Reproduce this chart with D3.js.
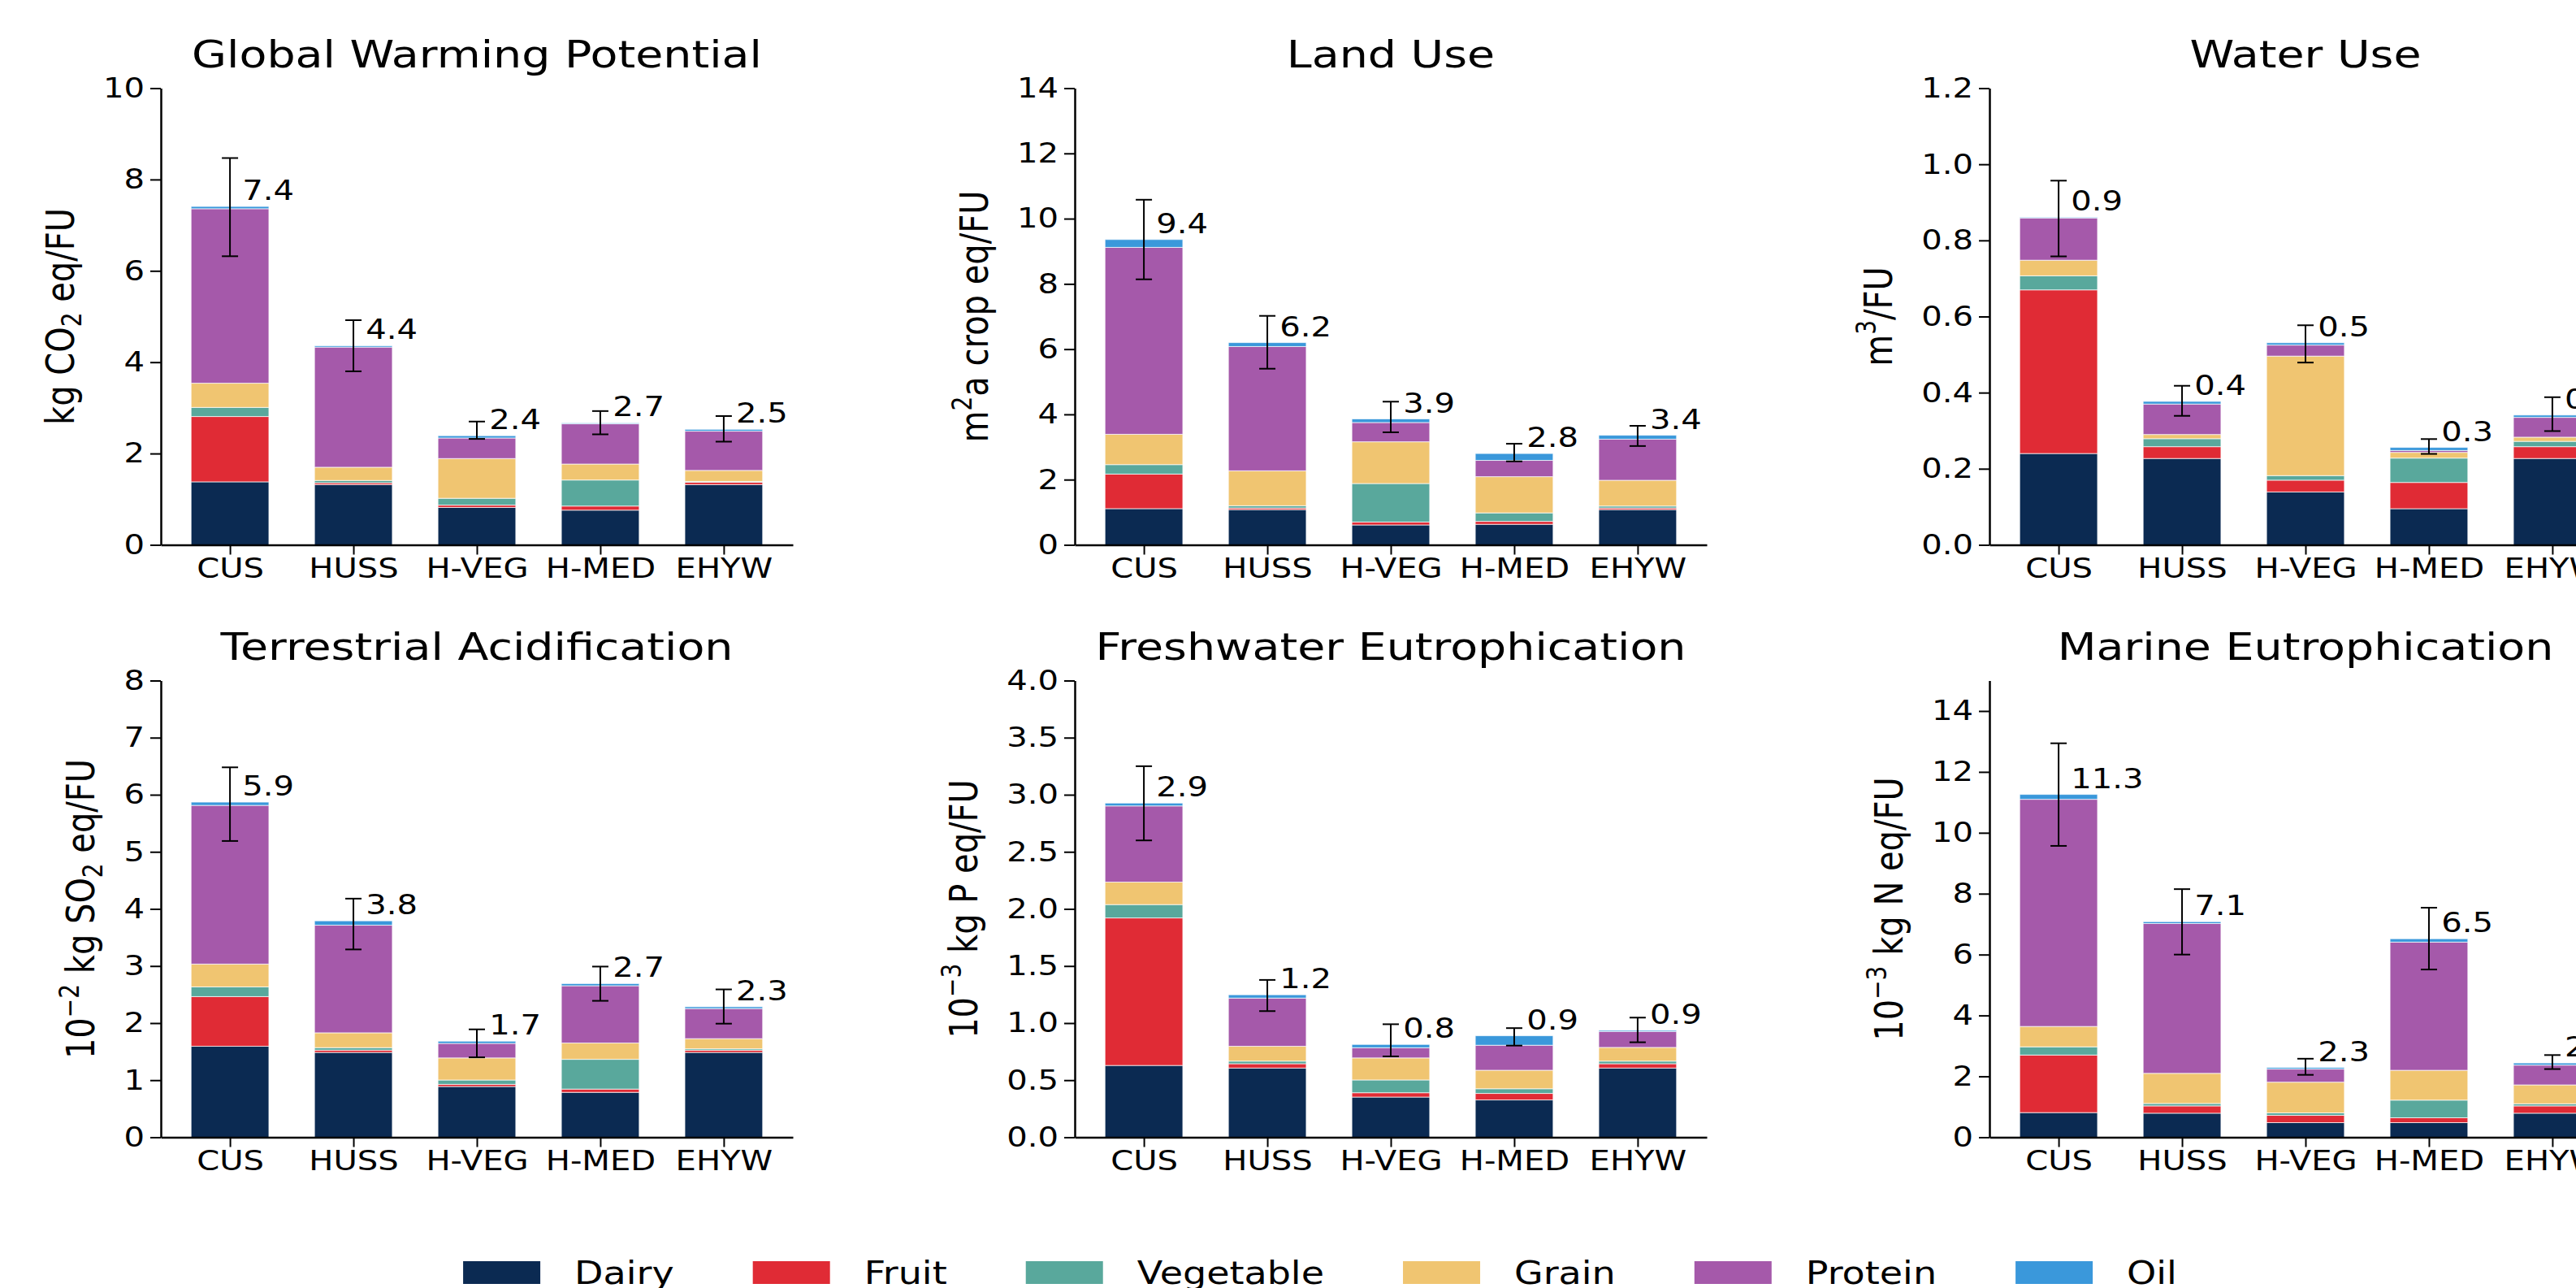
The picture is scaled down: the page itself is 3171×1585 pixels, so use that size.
<!DOCTYPE html>
<html>
<head>
<meta charset="utf-8">
<script src="https://cdn.jsdelivr.net/npm/d3@7"></script>
<style>
  body { margin: 0; background: #fff; }
  text { font-family: "DejaVu Sans", sans-serif; fill: #000; }
</style>
</head>
<body>
<script>
// Categories
var diets = ["CUS", "HUSS", "H-VEG", "H-MED", "EHYW"];
var groups = ["Dairy", "Fruit", "Vegetable", "Grain", "Protein", "Oil"];
var colors = ["#0b2a52", "#e02b35", "#59a89c", "#f0c571", "#a559aa", "#3a98db"];

var titles = ["Global Warming Potential", "Land Use", "Water Use",
  "Terrestrial Acidification", "Freshwater Eutrophication", "Marine Eutrophication"];
// ^{..} superscript, _{..} subscript
var yLabels = ["kg CO_{2} eq/FU", "m^{2}a crop eq/FU", "m^{3}/FU",
  "10^{\u22122} kg SO_{2} eq/FU", "10^{\u22123} kg P eq/FU", "10^{\u22123} kg N eq/FU"];
var yMax = [10, 14, 1.2, 8, 4, 15];
var yTicks = [
  [0, 2, 4, 6, 8, 10],
  [0, 2, 4, 6, 8, 10, 12, 14],
  [0, 0.2, 0.4, 0.6, 0.8, 1.0, 1.2],
  [0, 1, 2, 3, 4, 5, 6, 7, 8],
  [0, 0.5, 1.0, 1.5, 2.0, 2.5, 3.0, 3.5, 4.0],
  [0, 2, 4, 6, 8, 10, 12, 14]
];
var tickFormats = ["d", "d", ".1f", "d", ".1f", "d"];

// Values: one row per food group, one column per diet
var gwp = [
  [1.38, 1.32, 0.82, 0.76, 1.32],
  [1.43, 0.04, 0.05, 0.09, 0.05],
  [0.20, 0.05, 0.15, 0.57, 0.02],
  [0.53, 0.29, 0.87, 0.35, 0.24],
  [3.82, 2.63, 0.45, 0.88, 0.86],
  [0.05, 0.03, 0.05, 0.02, 0.04]
];
var landUse = [
  [1.11, 1.08, 0.61, 0.63, 1.08],
  [1.06, 0.05, 0.09, 0.09, 0.05],
  [0.29, 0.07, 1.18, 0.26, 0.06],
  [0.93, 1.07, 1.28, 1.11, 0.79],
  [5.73, 3.81, 0.59, 0.50, 1.26],
  [0.24, 0.12, 0.11, 0.21, 0.12]
];
var waterUse = [
  [0.240, 0.227, 0.139, 0.095, 0.227],
  [0.430, 0.031, 0.031, 0.069, 0.031],
  [0.037, 0.021, 0.012, 0.064, 0.014],
  [0.041, 0.011, 0.314, 0.015, 0.011],
  [0.111, 0.080, 0.029, 0.005, 0.052],
  [0.002, 0.007, 0.006, 0.008, 0.006]
];
var acidification = [
  [1.594, 1.486, 0.889, 0.787, 1.486],
  [0.870, 0.040, 0.038, 0.057, 0.038],
  [0.170, 0.044, 0.076, 0.521, 0.025],
  [0.400, 0.260, 0.387, 0.286, 0.178],
  [2.780, 1.885, 0.254, 1.003, 0.527],
  [0.057, 0.076, 0.039, 0.038, 0.032]
];
var freshwater = [
  [0.629, 0.606, 0.352, 0.327, 0.606],
  [1.292, 0.038, 0.038, 0.057, 0.038],
  [0.117, 0.023, 0.112, 0.041, 0.023],
  [0.197, 0.130, 0.193, 0.162, 0.120],
  [0.667, 0.422, 0.089, 0.219, 0.140],
  [0.025, 0.029, 0.029, 0.083, 0.010]
];
var marine = [
  [0.81, 0.79, 0.48, 0.48, 0.79],
  [1.89, 0.24, 0.24, 0.16, 0.24],
  [0.27, 0.08, 0.08, 0.58, 0.07],
  [0.67, 0.99, 1.01, 0.98, 0.62],
  [7.46, 4.92, 0.43, 4.21, 0.65],
  [0.16, 0.06, 0.05, 0.11, 0.07]
];

// Error bars [low, high] per diet
var gwpErr = [[6.32, 8.47], [3.80, 4.92], [2.32, 2.70], [2.42, 2.93], [2.26, 2.82]];
var landErr = [[8.14, 10.58], [5.40, 7.02], [3.45, 4.39], [2.56, 3.10], [3.03, 3.65]];
var waterErr = [[0.758, 0.957], [0.339, 0.418], [0.479, 0.577], [0.239, 0.278], [0.299, 0.388]];
var acidErr = [[5.19, 6.48], [3.29, 4.18], [1.40, 1.89], [2.39, 2.99], [1.99, 2.59]];
var freshErr = [[2.60, 3.25], [1.105, 1.378], [0.708, 0.99], [0.803, 0.956], [0.832, 1.048]];
var marineErr = [[9.57, 12.94], [6.00, 8.15], [2.05, 2.58], [5.51, 7.54], [2.24, 2.70]];

var impacts = [gwp, landUse, waterUse, acidification, freshwater, marine];
var errors = [gwpErr, landErr, waterErr, acidErr, freshErr, marineErr];

// Layout
var W = 3171, H = 1585;
var S = 1.18; // horizontal text stretch seen in the reference
var panelX = [198, 1323, 2449];
var rowTop = [108.5, 837.5];
var plotW = 778, plotH = 562;

// Write "a^{b}c_{d}" as tspans
function richText(sel, str, size) {
  var parts = str.split(/(\^\{[^}]*\}|_\{[^}]*\})/).filter(function(p) { return p.length; });
  var shift = 0;
  parts.forEach(function(p) {
    var target = 0, txt = p, fs = size;
    if (p[0] === "^") { target = -0.42 * size; txt = p.slice(2, -1); fs = size * 0.7; }
    else if (p[0] === "_") { target = 0.2 * size; txt = p.slice(2, -1); fs = size * 0.7; }
    sel.append("tspan")
        .attr("dy", target - shift)
        .attr("font-size", fs)
        .text(txt);
    shift = target;
  });
}

var svg = d3.select("body").append("svg")
    .attr("width", W)
    .attr("height", H);

svg.append("rect").attr("width", W).attr("height", H).attr("fill", "#fff");

impacts.forEach(function(vals, k) {
  var col = k % 3, row = Math.floor(k / 3);
  var g = svg.append("g")
      .attr("transform", "translate(" + panelX[col] + "," + rowTop[row] + ")");

  var x = d3.scalePoint().domain(diets).range([0, plotW]).padding(0.56);
  var y = d3.scaleLinear().domain([0, yMax[k]]).range([plotH, 0]);
  var bw = x.step() * 0.63;

  var rows = diets.map(function(d, i) {
    return groups.map(function(_, j) { return vals[j][i]; });
  });
  var stacked = d3.stack().keys(d3.range(groups.length))(rows);

  // Bars
  g.append("g").selectAll("g")
    .data(stacked)
    .join("g")
      .attr("fill", function(d, j) { return colors[j]; })
    .selectAll("rect")
    .data(function(d) { return d; })
    .join("rect")
      .attr("x", function(d, i) { return x(diets[i]) - bw / 2; })
      .attr("y", function(d) { return y(d[1]); })
      .attr("width", bw)
      .attr("height", function(d) { return y(d[0]) - y(d[1]); })
      .attr("stroke", "#fff")
      .attr("stroke-opacity", 0.7)
      .attr("stroke-width", 1);

  // Axes
  var ya = g.append("g")
      .call(d3.axisLeft(y).tickValues(yTicks[k]).tickFormat(d3.format(tickFormats[k]))
        .tickSize(13).tickSizeOuter(0).tickPadding(4))
      .attr("font-size", 34)
      .attr("font-family", "DejaVu Sans");
  var xa = g.append("g")
      .attr("transform", "translate(0," + plotH + ")")
      .call(d3.axisBottom(x).tickSize(12).tickSizeOuter(0).tickPadding(4))
      .attr("font-size", 34)
      .attr("font-family", "DejaVu Sans");

  [ya, xa].forEach(function(a) {
    a.select(".domain").attr("stroke", "#000").attr("stroke-width", 2.5);
    a.selectAll(".tick line").attr("stroke", "#000").attr("stroke-width", 2);
    a.selectAll("text").attr("fill", "#000").attr("transform", "scale(" + S + ",1)");
  });

  // Y label
  var bx = ya.node().getBBox().x;
  var yl = g.append("text")
      .attr("transform", "translate(" + (bx - 36) + "," + (plotH / 2) + ") scale(" + S + ",1) rotate(-90)")
      .attr("text-anchor", "middle")
      .attr("font-size", 40);
  richText(yl, yLabels[k], 40);

  // Title
  g.append("text")
      .attr("transform", "translate(" + (plotW / 2) + ",-26) scale(" + S + ",1)")
      .attr("text-anchor", "middle")
      .attr("font-size", 47)
      .text(titles[k]);

  // Error bars
  var err = errors[k];
  var eg = g.append("g").attr("stroke", "#000").attr("stroke-width", 2);
  diets.forEach(function(d, i) {
    var cx = x(d);
    eg.append("line").attr("x1", cx).attr("x2", cx).attr("y1", y(err[i][0])).attr("y2", y(err[i][1]));
    eg.append("line").attr("x1", cx - 10).attr("x2", cx + 10).attr("y1", y(err[i][0])).attr("y2", y(err[i][0]));
    eg.append("line").attr("x1", cx - 10).attr("x2", cx + 10).attr("y1", y(err[i][1])).attr("y2", y(err[i][1]));
  });

  // Totals
  diets.forEach(function(d, i) {
    var total = d3.sum(rows[i]);
    g.append("text")
        .attr("transform", "translate(" + (x(d) + 0.1 * x.step()) + "," + (y(total) - 8) + ") scale(" + S + ",1)")
        .attr("font-size", 34)
        .text(total.toFixed(1));
  });
});

// Legend
var legend = svg.append("g");
var items = legend.selectAll("g").data(groups).join("g");
items.append("rect")
    .attr("width", 95)
    .attr("height", 28)
    .attr("y", 1552)
    .attr("fill", function(d, j) { return colors[j]; });
items.append("text")
    .attr("font-size", 39)
    .text(function(d) { return d; });

var pos = 0, starts = [];
items.each(function() {
  var t = d3.select(this).select("text").node();
  starts.push(pos);
  pos += 137 + t.getComputedTextLength() * S + 97;
});
var total = pos - 97;
var left = 1625 - total / 2;
items.each(function(d, j) {
  var s = left + starts[j];
  d3.select(this).select("rect").attr("x", s);
  d3.select(this).select("text")
      .attr("transform", "translate(" + (s + 137) + ",1580) scale(" + S + ",1)");
});
</script>
</body>
</html>
